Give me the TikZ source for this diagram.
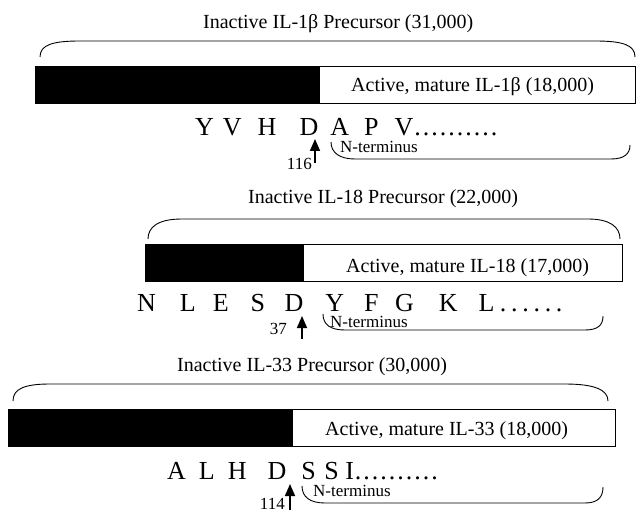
\documentclass[tikz,border=0pt]{standalone}
\usepackage{fontspec}
\setmainfont{Liberation Serif}
\usepackage{tikz}
\tikzset{
	txt/.style={inner sep=0pt,anchor=base west},
	title/.style={txt,font=\fontsize{20}{24}\selectfont},
	seq/.style={txt,font=\fontsize{26}{30}\selectfont},
	small/.style={txt,font=\fontsize{17}{20}\selectfont},
	pro/.style={fill=black,draw=black,line width=0.8pt},
	mature/.style={fill=white,draw=black,line width=0.8pt},
	brace/.style={line width=0.9pt},
	cut/.style={line width=1.6pt,-{Triangle[width=10pt,length=12pt]}}
}
\usetikzlibrary{calc,arrows.meta}
\newcommand{\gap}[1]{\hspace{#1pt}}
\newcommand{\seqdots}[2]{\foreach \d in {1,...,#1}{\makebox[#2pt]{.}}}

\begin{document}
\begin{tikzpicture}[x=1pt,y=-1pt]
\useasboundingbox (0,0) rectangle (636,513);
%IL-1beta
\node[title] (t1) at (203,29) {Inactive IL-1β Precursor (31,000)};
\draw[brace] (40,57) .. controls (40,45) and (52,41) .. (80,41) -- (595,41) .. controls (623,41) and (635,45) .. (635,57);
\draw[pro] (35,66) rectangle (319,103);
\draw[mature] (319,66) rectangle (635,103);
\node[title] (m1) at (351,92) {Active, mature IL-1β (18,000)};
\node[seq] (s1) at (195,136) {Y\gap{9}V\gap{16}H\gap{23}D\gap{12}A\gap{15}P\gap{16}V\seqdots{10}{8.5}};
\coordinate (c1b) at (315,163);
\coordinate (c1t) at (315,139);
\draw[cut] (c1b) -- (c1t);
\node[small,anchor=base east] (k1) at (312,169) {116};
\node[small] (n1) at (340,153) {N-terminus};
\draw[brace] (331,142) .. controls (331,153) and (340,159) .. (355,159) -- (611,159) .. controls (624,159) and (630,154) .. (630,145);
%
%IL-18
\node[title] (t2) at (248,203) {Inactive IL-18 Precursor (22,000)};
\draw[brace] (148,239) .. controls (148,227) and (158,219) .. (182,219) -- (588,219) .. controls (610,219) and (620,227) .. (620,239);
\draw[pro] (145,244) rectangle (303,281);
\draw[mature] (303,244) rectangle (622,281);
\node[title] (m2) at (346,272) {Active, mature IL-18 (17,000)};
\node[seq] (s2) at (137,311) {N\gap{24}L\gap{17}E\gap{22}S\gap{19.5}D\gap{22}Y\gap{20}F\gap{16.5}G\gap{25}K\gap{21}L\gap{3}\seqdots{6}{11.2}};
\coordinate (c2b) at (302,339);
\coordinate (c2t) at (302,316);
\draw[cut] (c2b) -- (c2t);
\node[small,anchor=base east] (k2) at (287,334) {37};
\node[small] (n2) at (330,327) {N-terminus};
\draw[brace] (323,314) .. controls (323,325) and (331,330) .. (345,330) -- (585,330) .. controls (598,330) and (603,325) .. (603,316);
%
%IL-33
\node[title] (t3) at (177,371) {Inactive IL-33 Precursor (30,000)};
\draw[brace] (13,401) .. controls (13,389) and (24,384) .. (50,384) -- (565,384) .. controls (595,384) and (608,390) .. (608,401);
\draw[pro] (8,409) rectangle (292,446);
\draw[mature] (292,409) rectangle (615,446);
\node[title] (m3) at (325,435) {Active, mature IL-33 (18,000)};
\node[seq] (s3) at (167,479) {A\gap{13}L\gap{13}H\gap{21}D\gap{15}S\gap{8.5}S\gap{6.5}I\seqdots{10}{8.5}};
\coordinate (c3b) at (290,510);
\coordinate (c3t) at (290,484);
\draw[cut] (c3b) -- (c3t);
\node[small,anchor=base east] (k3) at (285,509) {114};
\node[small] (n3) at (313,496) {N-terminus};
\draw[brace] (302,486) .. controls (302,497) and (310,503) .. (325,503) -- (585,503) .. controls (598,503) and (603,497) .. (603,487);
\end{tikzpicture}
\end{document}
